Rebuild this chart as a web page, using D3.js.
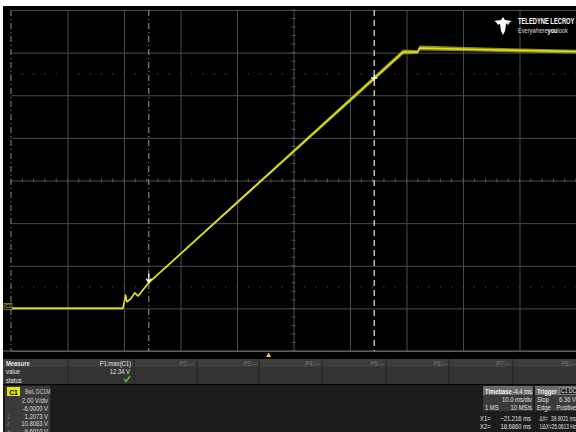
<!DOCTYPE html>
<html>
<head>
<meta charset="utf-8">
<script src="https://cdn.jsdelivr.net/npm/d3@7"></script>
<style>
  html, body { margin: 0; padding: 0; background: #fff; }
  svg { display: block; }
  text { font-family: "Liberation Sans", Arial, sans-serif; }
</style>
</head>
<body>
<svg id="scope" width="576" height="432"></svg>
<script>
// ---- Channel 1 acquisition (time in ms, level in V) ----
const timeMs  = [-45.6, -25.8, -25.3, -25.1, -24.4, -23.7, -23.1, -21.2, 23.8, 26.4, 26.7, 35.0, 45.0, 54.4];
const voltsV  = [0.00, 0.00, 0.62, 0.31, 0.45, 0.73, 0.58, 1.21, 12.03, 12.03, 12.22, 12.16, 12.10, 12.05];
// half-width of the noise envelope at each sample (V)
const noiseV  = [0.04, 0.04, 0.04, 0.04, 0.04, 0.04, 0.04, 0.04, 0.12, 0.08, 0.12, 0.10, 0.09, 0.09];

// ---- Timebase / vertical settings ----
const timeDomain = [-45.6, 54.4];     // 10 ms/div, trigger delay -4.4 ms
const voltDomain = [-2, 14];          // 2.00 V/div, offset -6.0000 V
const timeDivs = d3.range(0, 11).map(i => timeDomain[0] + 10 * i);
const voltDivs = d3.range(-2, 15, 2);

// ---- Cursors and readouts ----
const cursorX1 = -21.216, cursorX2 = 18.686;
const cursorY1 = 1.2073, cursorY2 = 10.8083;
const triggerTime = 0;

const measureRows = ["Measure", "value", "status"];
const measureCols = ["P1:max(C1)", "P2:---", "P3:---", "P4:---", "P5:---", "P6:---", "P7:---", "P8:---"];
const measureValue = "12.34 V";
const channelLines = ["2.00 V/div", "-6.0000 V", "1.2073 V", "10.8083 V", "-9.6010 V"];
const channelTags = ["", "", "1", "2", "Δy"];

const svg = d3.select("#scope");

// condensed readout text: glyphs squeezed horizontally around their anchor
const SX = 0.78;
function label(parent, x0, y0, s, o = {}) {
  return parent.append("text")
    .attr("transform", `translate(${x0},${y0}) scale(${o.sx || SX},1)`)
    .attr("text-anchor", o.anchor || "start")
    .attr("font-size", o.size || 7.5)
    .attr("font-weight", o.bold ? "bold" : "normal")
    .attr("fill", o.fill || "#e0e0e0")
    .text(s);
}

// screen background
svg.append("rect").attr("x", 3).attr("y", 6).attr("width", 573).attr("height", 426).attr("fill", "#000");

const L = 11, R = 576, T = 10, B = 351;
const x = d3.scaleLinear().domain(timeDomain).range([L, R]);
const y = d3.scaleLinear().domain(voltDomain).range([B, T]);

// ---- graticule ----
const gridColor = "#4a4a4a";
const gx = svg.append("g").attr("transform", `translate(0,${B})`)
  .call(d3.axisBottom(x).tickValues(timeDivs.slice(1, -1)).tickSize(-(B - T)).tickFormat(""));
gx.select(".domain").remove();
gx.selectAll("line").attr("stroke", gridColor).attr("stroke-width", 1);

const gy = svg.append("g").attr("transform", `translate(${L},0)`)
  .call(d3.axisLeft(y).tickValues(voltDivs).tickSize(-(R - L)).tickFormat(""));
gy.select(".domain").remove();
gy.selectAll("line").attr("stroke", gridColor).attr("stroke-width", 1);

// minor ticks on the centre axes
const xc = x((timeDomain[0] + timeDomain[1]) / 2), yc = y((voltDomain[0] + voltDomain[1]) / 2);
const minorT = d3.range(timeDomain[0], timeDomain[1] + 0.01, 2);
svg.append("g").selectAll("line").data(minorT).join("line")
  .attr("x1", d => x(d)).attr("x2", d => x(d)).attr("y1", yc - 2).attr("y2", yc + 2)
  .attr("stroke", "#555");
const minorV = d3.range(voltDomain[0], voltDomain[1] + 0.01, 0.4);
svg.append("g").selectAll("line").data(minorV).join("line")
  .attr("x1", xc - 2).attr("x2", xc + 2).attr("y1", d => y(d)).attr("y2", d => y(d))
  .attr("stroke", "#555");
// dotted rows at +/- 2.5 div
[y(11), y(1)].forEach(yy => {
  svg.append("g").selectAll("rect").data(minorT).join("rect")
    .attr("x", d => x(d) - 0.5).attr("y", yy - 0.5).attr("width", 1).attr("height", 1)
    .attr("fill", "#555");
});

// left edge marker line
svg.append("line").attr("x1", L).attr("x2", L).attr("y1", T).attr("y2", B)
  .attr("stroke", "#8a8a8a").attr("stroke-dasharray", "6,3,1,3");
// bottom border of the grid
svg.append("line").attr("x1", 3).attr("x2", R).attr("y1", B).attr("y2", B).attr("stroke", "#6e6e6e");

// ---- trace ----
const pts = timeMs.map((t, i) => ({ t, v: voltsV[i], n: noiseV[i] }));
svg.append("path").datum(pts)
  .attr("d", d3.area().x(d => x(d.t)).y0(d => y(d.v - d.n)).y1(d => y(d.v + d.n)))
  .attr("fill", "rgba(190,190,20,0.75)");
svg.append("path").datum(pts)
  .attr("d", d3.line().x(d => x(d.t)).y(d => y(d.v)))
  .attr("fill", "none").attr("stroke", "#e0e028").attr("stroke-width", 1.6)
  .attr("stroke-linejoin", "round");

// ---- cursors ----
svg.append("line").attr("x1", x(cursorX1)).attr("x2", x(cursorX1)).attr("y1", T).attr("y2", B)
  .attr("stroke", "#9a9a9a").attr("stroke-dasharray", "6,3,1,3");
svg.append("line").attr("x1", x(cursorX2)).attr("x2", x(cursorX2)).attr("y1", T).attr("y2", B)
  .attr("stroke", "#e8e8e8").attr("stroke-width", 1.2).attr("stroke-dasharray", "6,4");
// cursor markers on the trace
const c1x = x(cursorX1), c1y = y(cursorY1);
svg.append("path").attr("d", `M${c1x},${c1y - 9}V${c1y - 1}M${c1x - 2.5},${c1y - 4}L${c1x},${c1y}L${c1x + 2.5},${c1y - 4}`)
  .attr("stroke", "#fff").attr("stroke-width", 1.3).attr("fill", "none");
const c2x = x(cursorX2), c2y = y(cursorY2);
svg.append("path").attr("d", `M${c2x - 3},${c2y}H${c2x + 3}M${c2x},${c2y - 3}V${c2y + 3}`)
  .attr("stroke", "#fff").attr("stroke-width", 1.3);

// ground reference marker
svg.append("rect").attr("x", 4).attr("y", y(0) - 5).attr("width", 8).attr("height", 6).attr("fill", "#000")
  .attr("stroke", "#c8c830").attr("stroke-width", 0.6);
svg.append("text").attr("x", 5).attr("y", y(0)).attr("font-size", 5).attr("fill", "#d8d830").text("C1");

// ---- logo ----
const logo = svg.append("g").attr("transform", "translate(494,17)");
logo.append("path")
  .attr("d", "M0,4 L7,3 L9,0 L11,3 L18,4 L12,7 L11,14 L9,18 L7,14 L6,7 Z M2,5 L6,6.5 L4,8 Z M16,5 L12,6.5 L14,8 Z")
  .attr("fill", "#fff");
label(svg, 518, 24, "TELEDYNE LECROY", { size: 8.5, bold: true, fill: "#fff", sx: 0.68 });
const tag = label(svg, 518, 32.5, "", { size: 7, fill: "#ddd", sx: 0.8 });
tag.append("tspan").text("Everywhere");
tag.append("tspan").attr("font-weight", "bold").attr("fill", "#fff").text("you");
tag.append("tspan").text("look");

// ---- trigger position marker ----
const tx = x(triggerTime);
svg.append("path").attr("d", `M${tx - 2.5},357 L${tx},352.5 L${tx + 2.5},357 Z`).attr("fill", "#f0e000");

// ---- measurement table ----
svg.append("rect").attr("x", 3).attr("y", 359).attr("width", 573).attr("height", 25).attr("fill", "#333");
svg.append("rect").attr("x", 3).attr("y", 359).attr("width", 573).attr("height", 8).attr("fill", "#3d3d3d");
const colRight = [131, 194, 258, 320, 385, 448, 511, 576];
const seps = [68, 134, 197, 259, 322, 386, 449, 513];
svg.append("g").selectAll("line").data(seps).join("line")
  .attr("x1", d => d).attr("x2", d => d).attr("y1", 359).attr("y2", 384).attr("stroke", "#222");
measureRows.forEach((d, i) => label(svg, 6, 365.5 + i * 8.6, d, { bold: i === 0, fill: "#e6e6e6" }));
measureCols.forEach((d, i) => label(svg, colRight[i], 365.5, d, { anchor: "end", fill: i === 0 ? "#e6e6e6" : "#7a7a7a" }));
label(svg, 130, 374, measureValue, { anchor: "end", fill: "#e6e6e6" });
svg.append("path").attr("d", "M124,379 L126,381.5 L130,376").attr("stroke", "#3ec83e").attr("stroke-width", 1.6).attr("fill", "none");

// ---- lower dock ----
svg.append("rect").attr("x", 3).attr("y", 385).attr("width", 573).attr("height", 47).attr("fill", "#1c1c1c");
// channel descriptor
svg.append("rect").attr("x", 5).attr("y", 386).attr("width", 45).attr("height", 46).attr("fill", "#3a3a3a");
svg.append("rect").attr("x", 7).attr("y", 387).attr("width", 13).attr("height", 9).attr("fill", "#e8e800");
label(svg, 13.5, 394.5, "C1", { anchor: "middle", bold: true, fill: "#000", sx: 0.9 });
label(svg, 25, 393.5, "BwL DC1M", { size: 6.5, fill: "#cfcfcf" });
channelLines.forEach((d, i) => label(svg, 48, 403 + i * 7.8, d, { anchor: "end", size: 7.5, fill: "#dcdcdc" }));
channelTags.forEach((d, i) => label(svg, 7, 403 + i * 7.8, d, { size: 5.5, fill: "#8a8a8a" }));

// timebase box
svg.append("rect").attr("x", 483).attr("y", 386).attr("width", 50).attr("height", 25).attr("fill", "#3a3a3a");
svg.append("rect").attr("x", 483).attr("y", 386).attr("width", 50).attr("height", 9).attr("fill", "#6a6a6a");
label(svg, 485, 393.5, "Timebase", { bold: true, fill: "#f0f0f0" });
label(svg, 532, 393.5, "-4.4 ms", { anchor: "end", fill: "#f0f0f0" });
label(svg, 532, 402, "10.0 ms/div", { anchor: "end" });
label(svg, 485, 410, "1 MS");
label(svg, 532, 410, "10 MS/s", { anchor: "end" });

// trigger box
svg.append("rect").attr("x", 535).attr("y", 386).attr("width", 41).attr("height", 25).attr("fill", "#3a3a3a");
svg.append("rect").attr("x", 535).attr("y", 386).attr("width", 41).attr("height", 9).attr("fill", "#6a6a6a");
label(svg, 537, 393.5, "Trigger", { bold: true, fill: "#f0f0f0" });
svg.append("rect").attr("x", 560).attr("y", 387.5).attr("width", 17).attr("height", 7).attr("fill", "#222").attr("stroke", "#bbb").attr("stroke-width", 0.5);
label(svg, 561, 393.3, "C1 DC", { size: 6.5, fill: "#f0f0f0" });
label(svg, 537, 402, "Stop");
label(svg, 576, 402, "6.36 V", { anchor: "end" });
label(svg, 537, 410, "Edge");
label(svg, 576, 410, "Positive", { anchor: "end", sx: 0.74 });

// cursor readouts
const fmtMs = v => d3.format(".3f")(v) + " ms";
const readRows = [
  ["X1=", fmtMs(cursorX1), "ΔX=", "39.9021 ms"],
  ["X2=", "18.6860 ms", "1/ΔX=", "25.0613 Hz"]
];
readRows.forEach((r, i) => {
  const yy = 420.5 + i * 8.5;
  label(svg, 480, yy, r[0]);
  label(svg, 531, yy, r[1], { anchor: "end" });
  label(svg, 539.5, yy, r[2], { sx: 0.58 });
  label(svg, 576, yy, r[3], { anchor: "end", sx: 0.64 });
});
</script>
</body>
</html>
